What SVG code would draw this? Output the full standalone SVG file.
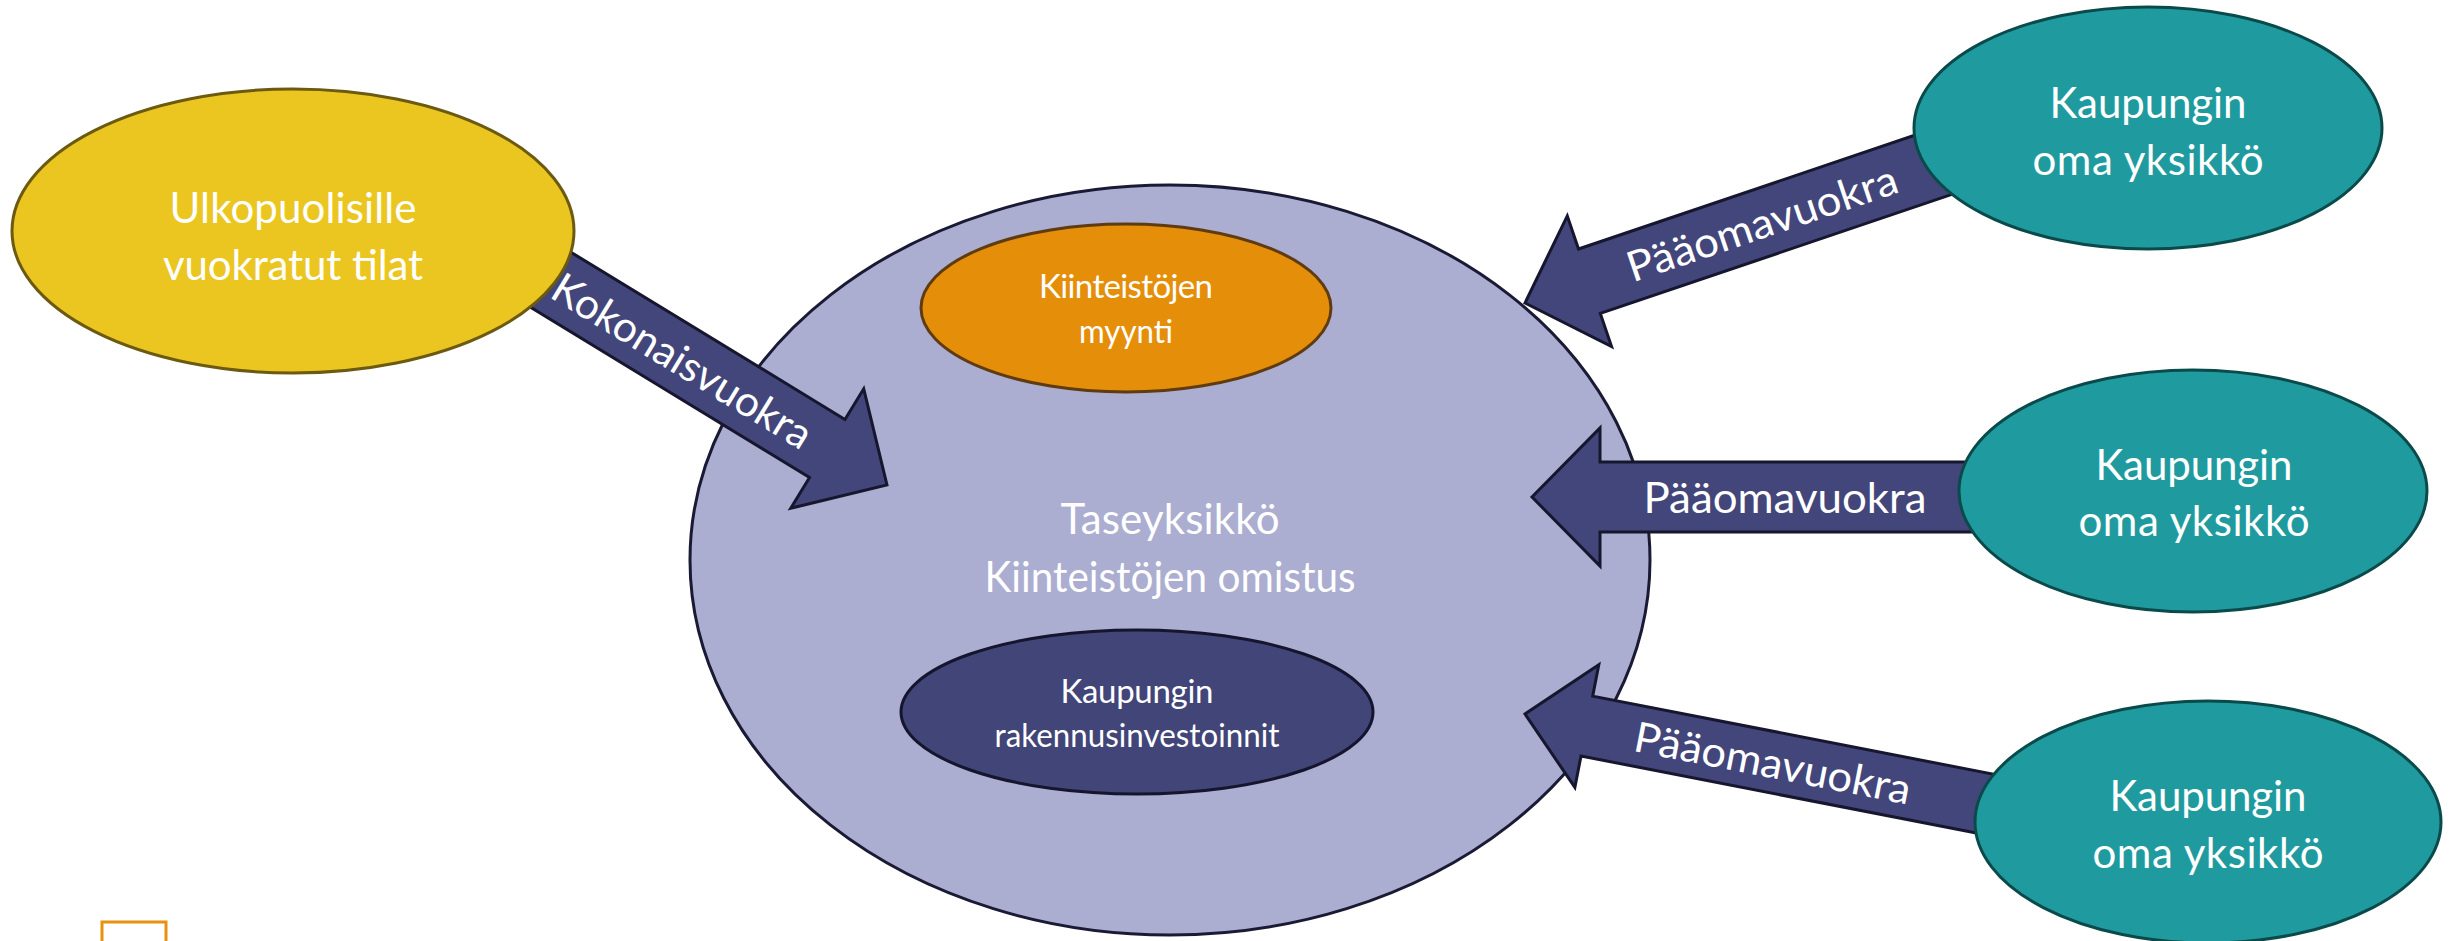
<svg xmlns="http://www.w3.org/2000/svg" width="2453" height="941" viewBox="0 0 2453 941">
  <style>
    .lbl { font-family: Lato, "Open Sans", "Liberation Sans", sans-serif; fill: #ffffff; text-anchor: middle; }
    .big { font-size: 42px; }
    .small { font-size: 33px; }
    .arrow { fill: #43467a; stroke: #16162e; stroke-width: 3; stroke-linejoin: miter; }
    .main { fill: #abadd1; stroke: #1a1a35; stroke-width: 3; }
    .teal { fill: #1f9ba0; stroke: #0b4a4a; stroke-width: 3; }
    .yellow { fill: #ecc620; stroke: #6b5a10; stroke-width: 3; }
    .orange { fill: #e58e0a; stroke: #5f3b10; stroke-width: 3; }
    .navy { fill: #424577; stroke: #15152e; stroke-width: 3; }
  </style>

  <rect width="2453" height="941" fill="#ffffff"/>

  <!-- central balance unit -->
  <g id="node-taseyksikko">
    <ellipse class="main" cx="1170" cy="560" rx="480" ry="375"/>
    <text class="lbl big" x="1170" y="534" textLength="219">Taseyksikkö</text>
    <text class="lbl big" x="1170" y="592" textLength="371" lengthAdjust="spacingAndGlyphs">Kiinteistöjen omistus</text>
  </g>

  <g id="node-myynti">
    <ellipse class="orange" cx="1126" cy="308" rx="205" ry="84"/>
    <text class="lbl small" x="1126" y="298" textLength="174">Kiinteistöjen</text>
    <text class="lbl small" x="1126" y="343" textLength="94" lengthAdjust="spacingAndGlyphs">myynti</text>
  </g>

  <g id="node-investoinnit">
    <ellipse class="navy" cx="1137" cy="712" rx="236" ry="82"/>
    <text class="lbl small" x="1137" y="703" textLength="153">Kaupungin</text>
    <text class="lbl small" x="1137" y="747" textLength="285" lengthAdjust="spacingAndGlyphs">rakennusinvestoinnit</text>
  </g>

  <!-- block arrows: tip at local origin, pointing along +x -->
  <g id="connectors">
    <path class="arrow" transform="translate(887,485) rotate(31.4)"
          d="M0,0 L-70,-70 L-70,-34 L-430,-34 L-430,34 L-70,34 L-70,70 Z"/>
    <path class="arrow" transform="translate(1525,303) rotate(161.3)"
          d="M0,0 L-68,-69 L-68,-34 L-500,-34 L-500,34 L-68,34 L-68,69 Z"/>
    <path class="arrow" transform="translate(1532,497) rotate(180)"
          d="M0,0 L-68,-69 L-68,-35 L-458,-35 L-458,35 L-68,35 L-68,69 Z"/>
    <path class="arrow" transform="translate(1525,714) rotate(191.03)"
          d="M0,0 L-63,-62.5 L-63,-30.5 L-480,-30.5 L-480,30.5 L-63,30.5 L-63,62.5 Z"/>

    <g transform="translate(683,360) rotate(31.4)">
      <text class="lbl big" x="0" y="16" textLength="296" lengthAdjust="spacingAndGlyphs">Kokonaisvuokra</text>
    </g>
    <g transform="translate(1762,223) rotate(-18.7)">
      <text class="lbl big" x="0" y="15" textLength="283" lengthAdjust="spacingAndGlyphs">Pääomavuokra</text>
    </g>
    <g transform="translate(1785,497)">
      <text class="lbl big" x="0" y="16" textLength="283" lengthAdjust="spacingAndGlyphs">Pääomavuokra</text>
    </g>
    <g transform="translate(1773,762) rotate(11.03)">
      <text class="lbl big" x="0" y="16" textLength="281" lengthAdjust="spacingAndGlyphs">Pääomavuokra</text>
    </g>
  </g>

  <g id="node-ulkopuoliset">
    <ellipse class="yellow" cx="293" cy="231" rx="281" ry="142"/>
    <text class="lbl big" x="293" y="223" textLength="247">Ulkopuolisille</text>
    <text class="lbl big" x="293" y="280" textLength="260">vuokratut tilat</text>
  </g>

  <g id="node-oma-1">
    <ellipse class="teal" cx="2148" cy="128" rx="234" ry="121"/>
    <text class="lbl big" x="2148" y="118" textLength="197">Kaupungin</text>
    <text class="lbl big" x="2148" y="175" textLength="231">oma yksikkö</text>
  </g>

  <g id="node-oma-2">
    <ellipse class="teal" cx="2193" cy="491" rx="234" ry="121"/>
    <text class="lbl big" x="2194" y="480" textLength="197">Kaupungin</text>
    <text class="lbl big" x="2194" y="536" textLength="231">oma yksikkö</text>
  </g>

  <g id="node-oma-3">
    <ellipse class="teal" cx="2208" cy="822" rx="233" ry="121"/>
    <text class="lbl big" x="2208" y="811" textLength="197">Kaupungin</text>
    <text class="lbl big" x="2208" y="868" textLength="231">oma yksikkö</text>
  </g>

  <!-- small outlined box at the lower left edge -->
  <rect x="102" y="922" width="64" height="40" fill="#ffffff" stroke="#e8920e" stroke-width="3"/>
</svg>
